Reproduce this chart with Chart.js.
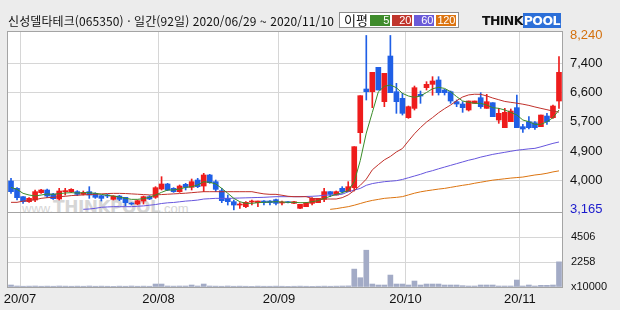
<!DOCTYPE html>
<html lang="ko">
<head>
<meta charset="UTF-8">
<script src="https://cdn.jsdelivr.net/npm/chart.js"></script>
<style>
  body { margin: 0; }
  #wrap { position: relative; width: 620px; height: 310px; background: #ececec; overflow: hidden; font-family: 'Liberation Sans', sans-serif; }
  .panel { position: absolute; background: #fff; }
  canvas { position: absolute; left: 0; top: 0; }
  #title { position: absolute; left: 8px; top: 12px; line-height: 16px; font: 12px 'Noto Sans CJK KR'; letter-spacing: 0.1px; color: #111; white-space: nowrap; }
  #legend { position: absolute; left: 339px; top: 12px; width: 118px; height: 14px; border: 1px solid #8c8c8c; background: #fff; }
  #legend .lab { position: absolute; left: 4px; top: -1px; font: 13px 'Noto Sans CJK KR'; line-height: 16px; color: #111; }
  #legend .cell { position: absolute; top: 2px; width: 20px; height: 11px; color: #fff; font: 11px 'Liberation Sans'; line-height: 11px; text-align: right; box-sizing: border-box; padding-right: 1px; letter-spacing: -0.3px; }
  #logo { position: absolute; left: 482px; top: 13px; height: 15px; white-space: nowrap; font: 900 12.5px 'DejaVu Sans'; line-height: 15px; }
  #logo .think { color: #111; letter-spacing: -0.6px; }
  #logo .pool { color: #fff; background: #2c6fd8; padding: 0 1px; letter-spacing: -0.6px; }
  #mark { position: absolute; left: 22px; top: 197px; color: #d6d6d6; font: 13px 'Liberation Sans'; white-space: nowrap; }
  #mark b { font: 900 17px 'DejaVu Sans'; letter-spacing: -0.5px; }
</style>
</head>
<body>
<div id="wrap">
  <div class="panel" style="left:8px;top:32px;width:554px;height:180px"></div>
  <div class="panel" style="left:8px;top:213px;width:554px;height:74px"></div>
  <div id="mark">www.<b>THINKPOOL</b>.com</div>
  <canvas id="price" width="620" height="310"></canvas>
  <canvas id="volume" width="620" height="310"></canvas>
  <div id="title">신성델타테크(065350) · 일간(92일) 2020/06/29 ~ 2020/11/10</div>
  <div id="legend">
    <span class="lab">이평</span>
    <span class="cell" style="left:30px;background:#3f8c2c">5</span>
    <span class="cell" style="left:52px;background:#c0352c">20</span>
    <span class="cell" style="left:74px;background:#6a5ad8">60</span>
    <span class="cell" style="left:96px;background:#dc7410">120</span>
  </div>
  <div id="logo"><span class="think">THINK</span><span class="pool">POOL</span></div>
</div>
<script>
// trading days 2020/06/29 ~ 2020/11/10
const dates = ['06/29','06/30',
  '07/01','07/02','07/03','07/06','07/07','07/08','07/09','07/10','07/13','07/14','07/15','07/16','07/17','07/20','07/21','07/22','07/23','07/24','07/27','07/28','07/29','07/30','07/31',
  '08/03','08/04','08/05','08/06','08/07','08/10','08/11','08/12','08/13','08/14','08/18','08/19','08/20','08/21','08/24','08/25','08/26','08/27','08/28','08/31',
  '09/01','09/02','09/03','09/04','09/07','09/08','09/09','09/10','09/11','09/14','09/15','09/16','09/17','09/18','09/21','09/22','09/23','09/24','09/25','09/28','09/29',
  '10/05','10/06','10/07','10/08','10/12','10/13','10/14','10/15','10/16','10/19','10/20','10/21','10/22','10/23','10/26','10/27','10/28','10/29','10/30',
  '11/02','11/03','11/04','11/05','11/06','11/09','11/10']

const opens = [4005,3791,3549,3403,3452,3665,3743,3627,3481,3695, 3695,3695,3617,3695,3646,3578,3588,3471,3568,3530,
  3345,3335,3423,3549,3530,3772,3918,3791,3695,3908, 3821,4034,3859,4180,3985,3724,3500,3403,3306,3258,
  3394,3374,3423,3423,3462,3365,3394,3355,3210,3258, 3355,3374,3471,3695,3597,3791,3695,3811,5411,6682,
  6604,7313,6313,7642,6604,6410,5848,6119,6527,6721, 6818,6944,6653,6604,6313,6245,6071,6265,6430,6119,
  6284,5780,5557,5731,6139,5586,5731,5702,5586,5896, 5848,6333]
const highs = [4082,3811,3549,3520,3743,3762,3772,3646,3791,3791, 3782,3724,3714,3840,3665,3588,3617,3578,3588,3530,
  3374,3452,3568,3578,3840,4131,3937,3811,3889,3937, 4063,4082,4228,4199,4034,3791,3598,3452,3374,3403,
  3452,3423,3433,3433,3481,3423,3403,3413,3326,3384, 3520,3500,3791,3695,3714,3840,3985,5004,6488,8240,
  7167,7313,7138,8240,6847,6556,6187,6769,6624,6895, 7041,7041,6672,6624,6362,6313,6333,6333,6575,6527,
  6284,6119,6119,6100,6507,5654,5877,5731,5925,5974, 6216,7623]
const lows = [3646,3452,3355,3384,3403,3646,3520,3471,3452,3597, 3665,3578,3597,3500,3500,3423,3520,3452,3433,3277,
  3306,3316,3335,3462,3500,3743,3724,3675,3675,3743, 3743,3811,3694,3937,3694,3374,3306,3165,3210,3229,
  3306,3258,3306,3306,3306,3306,3365,3345,3200,3258, 3306,3374,3403,3549,3597,3646,3695,3714,5101,6362,
  6139,6653,6168,6575,5974,5925,5828,6071,6265,6653, 6500,6507,6507,6265,6168,6003,6042,6265,6119,6119,
  5877,5683,5557,5731,5557,5421,5518,5509,5586,5654, 5828,6119]
const closes = [3694,3520,3403,3500,3695,3743,3568,3491,3714,3714, 3762,3617,3665,3597,3530,3500,3568,3568,3471,3374,
  3335,3433,3549,3481,3811,3918,3743,3695,3859,3821, 3985,3840,4180,3956,3762,3433,3403,3306,3335,3384,
  3413,3423,3374,3374,3355,3394,3374,3403,3326,3374, 3500,3500,3695,3617,3695,3695,3840,5004,6488,6604,
  7167,6653,7138,6575,6313,5974,6168,6720,6478,6818, 6915,6575,6575,6333,6245,6139,6333,6333,6168,6313,
  5877,5974,6003,6042,5557,5518,5557,5557,5925,5731, 6187,7167]

const ma5 = [3820,3762,3646,3597,3568,3597,3627,3617,3636,3656, 3665,3656,3665,3665,3646,3617,3588,3568,3539,3500,
  3471,3471,3491,3530,3597,3675,3743,3743,3772,3820, 3840,3889,3985,3966,3918,3791,3646,3500,3403,3355,
  3355,3374,3384,3394,3403,3394,3384,3384,3374,3374, 3403,3433,3500,3558,3617,3665,3724,3985,4600,5400,
  6000,6600,6760,6800,6720,6556,6478,6440,6480,6580, 6690,6730,6700,6604,6460,6333,6294,6265,6265,6216,
  6139,6119,6071,6003,5925,5780,5731,5654,5654,5731, 5848,6071]
const ma20 = [3384,3384,3420,3440,3460,3500,3520,3530,3550,3560, 3580,3590,3600,3610,3620,3630,3640,3645,3645,3640,
  3630,3620,3610,3600,3600,3610,3620,3630,3640,3650, 3665,3680,3694,3694,3694,3694,3694,3694,3694,3694,
  3694,3660,3630,3617,3617,3590,3560,3549,3549,3549, 3500,3481,3481,3481,3481,3520,3600,3730,3880,4060,
  4330,4480,4620,4720,4850,4950,5170,5380,5560,5720, 5850,5990,6110,6216,6340,6450,6510,6530,6527,6480,
  6420,6370,6320,6294,6270,6240,6205,6160,6119,6080, 6040,6010]
const ma60 = [null,null,null,null,null,null,null,null,null,null, null,null,3181,3190,3210,3240,3250,3258,3258,3258,
  3258,3270,3280,3300,3320,3350,3370,3380,3400,3420, 3433,3450,3480,3490,3500,3500,3500,3505,3510,3515,
  3520,3525,3530,3540,3549,3549,3549,3549,3549,3555, 3560,3570,3590,3597,3600,3620,3690,3740,3790,3880,
  3930,3960,3985,4000,4015,4050,4100,4150,4200,4260, 4306,4360,4410,4460,4510,4560,4610,4650,4700,4740,
  4780,4810,4840,4870,4900,4920,4940,4955,5000,5050, 5100,5140]
const ma120 = [null,null,null,null,null,null,null,null,null,null, null,null,null,null,null,null,null,null,null,null,
  null,null,null,null,null,null,null,null,null,null, null,null,null,null,null,null,null,null,null,null,
  null,null,null,null,null,null,null,null,null,null, null,null,null,3180,3200,3230,3258,3300,3350,3400,
  3440,3470,3500,3515,3529,3550,3600,3650,3690,3720, 3745,3770,3790,3820,3850,3880,3905,3940,3970,4000,
  4030,4050,4070,4090,4105,4120,4150,4180,4200,4230, 4270,4300]

// volume, x10000 shares
const volumes = [180,90,70,80,90,70,80,70,90,80, 70,80,70,90,70,80,70,60,80,70, 90,70,80,70,270,270,90,80,90,90,
  180,90,270,90,80,70,90,70,80,70, 60,80,70,70,80,70,60,70,80,70, 60,70,80,70,80,90,100,1625,843,3341,
  270,180,180,1084,270,270,180,542,180,270, 270,270,180,180,180,120,90,90,180,180, 180,90,90,90,632,90,180,90,150,150,
  180,2285]

const priceTicks = [3165, 4030, 4880, 5730, 6580, 7430, 8240]
const priceTickLabels = ['3,165', '4,000', '4,900', '5,700', '6,600', '7,400', '8,240']
const volTicks = [0, 2258, 4506]
const volTickLabels = ['x10000', '2258', '4506']
const monthStarts = [2, 25, 45, 66, 85]
const monthLabels = ['20/07', '20/08', '20/09', '20/10', '20/11']

const upColor = '#ee1c1c'
const downColor = '#1f5fe6'
const gridColor = '#d6d6d6'
const candleColors = opens.map((o, i) => closes[i] >= o ? upColor : downColor)

Chart.defaults.animation = false
Chart.defaults.font.family = "'Liberation Sans', sans-serif"
Chart.defaults.color = '#111'

const frame = {
  id: 'frame',
  afterDraw(chart) {
    const { ctx, chartArea: a } = chart
    ctx.save()
    ctx.strokeStyle = '#a4a4a4'
    ctx.lineWidth = 1
    ctx.strokeRect(Math.round(a.left) - 0.5, Math.round(a.top) - 0.5, Math.round(a.width) + 1, Math.round(a.height) + 1)
    ctx.restore()
  }
}

const monthGrid = ctx => monthStarts.includes(ctx.index) ? gridColor : 'rgba(0,0,0,0)'

new Chart(document.getElementById('price'), {
  type: 'bar',
  data: {
    labels: dates,
    datasets: [
      { type: 'line', data: ma5, borderColor: '#3a8c28', borderWidth: 1, pointRadius: 0, order: 0 },
      { type: 'line', data: ma20, borderColor: '#c0302a', borderWidth: 1, pointRadius: 0, order: 0 },
      { type: 'line', data: ma60, borderColor: '#6655dd', borderWidth: 1, pointRadius: 0, order: 0 },
      { type: 'line', data: ma120, borderColor: '#dc7410', borderWidth: 1, pointRadius: 0, order: 0 },
      { data: opens.map((o, i) => [o, closes[i]]), backgroundColor: candleColors, barThickness: 5, minBarLength: 1, grouped: false, order: 1 },
      { data: lows.map((l, i) => [l, highs[i]]), backgroundColor: candleColors, barThickness: 1, grouped: false, order: 2 }
    ]
  },
  options: {
    responsive: false,
    layout: { padding: { top: 32, left: 8, right: 0, bottom: 98 } },
    plugins: { legend: { display: false }, tooltip: { enabled: false } },
    scales: {
      x: {
        ticks: { display: false, autoSkip: false },
        grid: { color: monthGrid, drawTicks: false },
        border: { display: false },
        afterFit: s => { s.height = 0 }
      },
      y: {
        position: 'right',
        min: 3103,
        max: 8341,
        afterBuildTicks: s => { s.ticks = priceTicks.map(v => ({ value: v })) },
        afterFit: s => { s.width = 58 },
        ticks: {
          autoSkip: false,
          padding: 8,
          font: { size: 13 },
          callback: (v, i) => priceTickLabels[i],
          color: ctx => ctx.index === 0 ? '#1a1acc' : ctx.index === priceTicks.length - 1 ? '#d4700c' : '#111'
        },
        grid: {
          drawTicks: false,
          color: ctx => (ctx.index === 0 || ctx.index === priceTicks.length - 1) ? 'rgba(0,0,0,0)' : gridColor
        },
        border: { display: false }
      }
    }
  },
  plugins: [frame]
})

new Chart(document.getElementById('volume'), {
  type: 'bar',
  data: {
    labels: dates,
    datasets: [
      { data: volumes, backgroundColor: '#a3abc6', barThickness: 5 }
    ]
  },
  options: {
    responsive: false,
    layout: { padding: { top: 213, left: 8, right: 0, bottom: 0 } },
    plugins: { legend: { display: false }, tooltip: { enabled: false } },
    scales: {
      x: {
        ticks: {
          autoSkip: false,
          maxRotation: 0,
          padding: 5,
          labelOffset: -3,
          font: { size: 13 },
          callback: (v, i) => {
            const k = monthStarts.indexOf(i)
            return k >= 0 ? monthLabels[k] : ''
          }
        },
        grid: { color: monthGrid, drawTicks: false },
        border: { display: false },
        afterFit: s => { s.height = 23 }
      },
      y: {
        position: 'right',
        min: 0,
        max: 6720,
        afterBuildTicks: s => { s.ticks = volTicks.map(v => ({ value: v })) },
        afterFit: s => { s.width = 58 },
        ticks: {
          autoSkip: false,
          padding: 9,
          font: { size: 11 },
          callback: (v, i) => volTickLabels[i]
        },
        grid: {
          drawTicks: false,
          color: ctx => ctx.index === 0 ? 'rgba(0,0,0,0)' : gridColor
        },
        border: { display: false }
      }
    }
  },
  plugins: [frame]
})
</script>
</body>
</html>
